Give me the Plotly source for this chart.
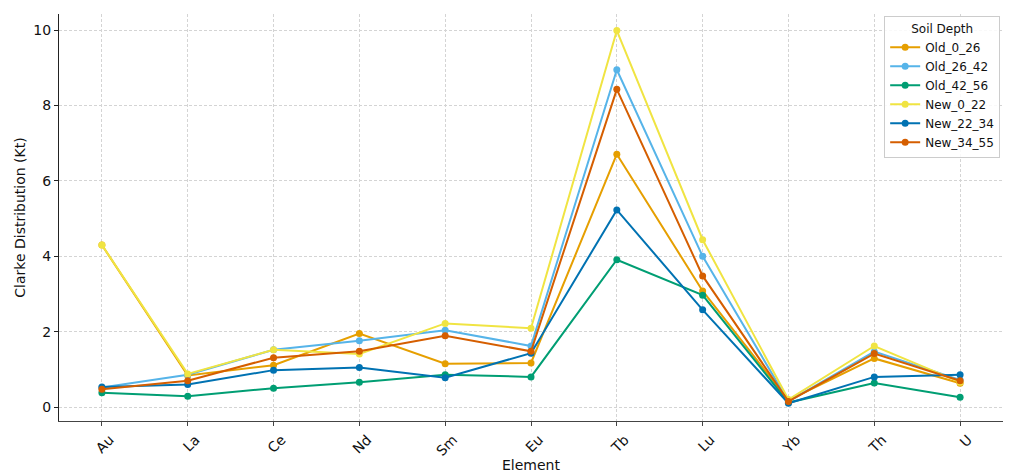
import plotly.graph_objects as go

elements = ["Au", "La", "Ce", "Nd", "Sm", "Eu", "Tb", "Lu", "Yb", "Th", "U"]

old_0_26 = [4.30, 0.84, 1.11, 1.95, 1.15, 1.17, 6.71, 3.08, 0.18, 1.29, 0.63]
old_26_42 = [0.52, 0.86, 1.52, 1.76, 2.04, 1.62, 8.95, 4.00, 0.15, 1.47, 0.72]
old_42_56 = [0.38, 0.29, 0.50, 0.66, 0.86, 0.80, 3.91, 2.97, 0.12, 0.64, 0.26]
new_0_22 = [4.30, 0.88, 1.52, 1.41, 2.22, 2.09, 9.99, 4.44, 0.20, 1.62, 0.66]
new_22_34 = [0.53, 0.60, 0.98, 1.05, 0.78, 1.43, 5.23, 2.58, 0.10, 0.80, 0.86]
new_34_55 = [0.47, 0.70, 1.31, 1.48, 1.89, 1.48, 8.43, 3.48, 0.15, 1.42, 0.70]

series_names = ["Old_0_26", "Old_26_42", "Old_42_56", "New_0_22", "New_22_34", "New_34_55"]
series_values = [old_0_26, old_26_42, old_42_56, new_0_22, new_22_34, new_34_55]
colors = ["#E69F00", "#56B4E9", "#009E73", "#F0E442", "#0072B2", "#D55E00"]

fig = go.Figure()
for name, vals, c in zip(series_names, series_values, colors):
    fig.add_trace(go.Scatter(
        x=list(range(len(elements))), y=vals, name=name, mode="lines+markers",
        line=dict(color=c, width=2), marker=dict(color=c, size=7),
    ))

font = "DejaVu Sans"
fig.update_layout(
    width=1012, height=468,
    margin=dict(l=51, r=17, t=6, b=55),
    paper_bgcolor="white", plot_bgcolor="white",
    font=dict(family=font, size=13, color="#111"),
    legend=dict(
        title=dict(text="Soil Depth", side="top center", font=dict(size=12)),
        x=0.997, xanchor="right", y=0.995, yanchor="top",
        bordercolor="#cccccc", borderwidth=1, bgcolor="rgba(255,255,255,0.85)",
        font=dict(size=12), itemwidth=30, tracegroupgap=0,
    ),
    xaxis=dict(
        title=dict(text="Element", font=dict(size=14), standoff=2),
        tickmode="array", tickvals=list(range(len(elements))), ticktext=elements,
        tickangle=-45, range=[-0.5, 10.5], automargin=False,
        ticklabelshift=8,
        showgrid=True, gridcolor="#d4d4d4", griddash="3px,2px", gridwidth=1,
        showline=True, linecolor="#444", linewidth=1.2,
        ticks="outside", ticklen=4, tickcolor="#444",
        zeroline=False, tickfont=dict(size=14),
    ),
    yaxis=dict(
        title=dict(text="Clarke Distribution (Kt)", font=dict(size=14), standoff=4),
        range=[-0.37, 10.43], tickvals=[0, 2, 4, 6, 8, 10], automargin=False,
        showgrid=True, gridcolor="#d4d4d4", griddash="3px,2px", gridwidth=1,
        showline=True, linecolor="#222", linewidth=1.2,
        ticks="outside", ticklen=4, tickcolor="#222",
        zeroline=False, tickfont=dict(size=14),
    ),
)

fig.write_html("out.html")
